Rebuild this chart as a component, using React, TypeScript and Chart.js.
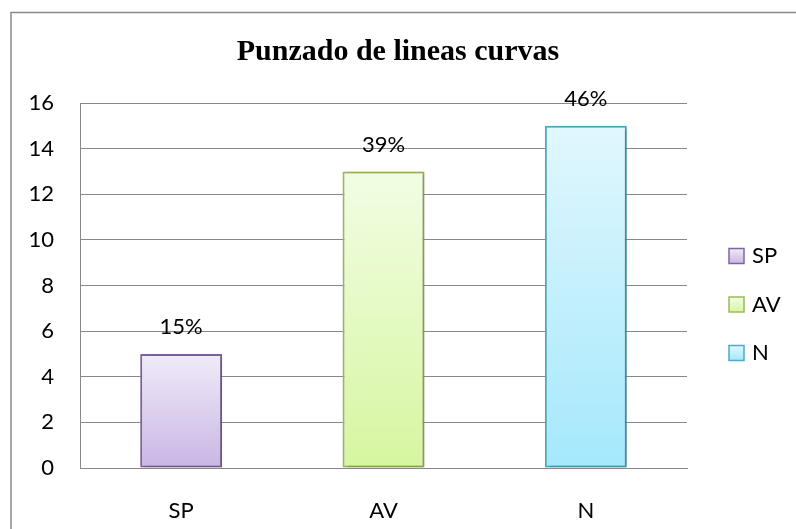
import React, { useEffect, useRef } from 'react';
import { Chart, registerables } from 'chart.js';

Chart.register(...registerables);

const titleText = 'Punzado de lineas curvas';
const categories = ['SP', 'AV', 'N'];
const values = [5, 13, 15];
const percentLabels = ['15%', '39%', '46%'];
const legendLabels = ['SP', 'AV', 'N'];
const yMin = 0;
const yMax = 16;
const yStep = 2;
const topColors = ['#f0ebf8', '#f2fde4', '#e1f7fd'];
const bottomColors = ['#c9b6e4', '#d6f6a0', '#a5e8fc'];
const borderColors = ['#8064a2', '#9bbb59', '#4bacc6'];

const tickFont = { family: 'Lato', size: 22 };

function makeGradient(c: CanvasRenderingContext2D, i: number, top: number, bottom: number) {
  const g = c.createLinearGradient(0, top, 0, bottom);
  g.addColorStop(0, topColors[i]);
  g.addColorStop(1, bottomColors[i]);
  return g;
}

export default function App() {
  const ref = useRef<HTMLCanvasElement>(null);

  useEffect(() => {
    const canvas = ref.current;
    if (!canvas) return;

    const plugin = {
      id: 'excelLook',
      beforeDatasetsDraw(chart: any) {
        const c = chart.ctx;
        c.save();
        c.shadowColor = 'rgba(0,0,0,0.25)';
        c.shadowBlur = 4;
        c.shadowOffsetX = 2;
        c.shadowOffsetY = 1;
      },
      afterDatasetsDraw(chart: any) {
        chart.ctx.restore();
      },
      afterDraw(chart: any) {
        const c = chart.ctx as CanvasRenderingContext2D;
        const area = chart.chartArea;
        c.save();
        // data labels
        const meta = chart.getDatasetMeta(0);
        c.font = '22px Lato';
        c.fillStyle = '#000';
        c.textAlign = 'center';
        c.textBaseline = 'middle';
        meta.data.forEach((bar: any, i: number) => {
          c.fillText(percentLabels[i], bar.x, bar.y - 27);
        });
        // legend
        const midY = (area.top + area.bottom) / 2 + 19;
        legendLabels.forEach((lab, i) => {
          const cy = midY + (i - 1) * 48.5;
          const bx = area.right + 42;
          c.fillStyle = makeGradient(c, i, cy - 7.5, cy + 7.5);
          c.fillRect(bx, cy - 7.5, 15, 15);
          c.lineWidth = 1.5;
          c.strokeStyle = borderColors[i];
          c.strokeRect(bx, cy - 7.5, 15, 15);
          c.fillStyle = '#000';
          c.textAlign = 'left';
          c.fillText(lab, bx + 23, cy);
        });
        // outer frame
        c.strokeStyle = '#8a8a8a';
        c.lineWidth = 1.5;
        c.beginPath();
        c.moveTo(11, chart.height);
        c.lineTo(11, 12.5);
        c.lineTo(chart.width, 12.5);
        c.stroke();
        c.restore();
      },
    };

    const chart = new Chart(canvas, {
      type: 'bar',
      data: {
        labels: categories,
        datasets: [
          {
            data: values,
            backgroundColor: (ctx: any) => {
              const i = ctx.dataIndex;
              if (i === undefined) return topColors[0];
              const ch = ctx.chart;
              if (!ch.chartArea || !ch.scales.y) return topColors[i];
              const ys = ch.scales.y;
              return makeGradient(ch.ctx, i, ys.getPixelForValue(values[i]), ys.getPixelForValue(0));
            },
            borderColor: borderColors,
            borderWidth: 2,
            borderSkipped: false,
            barPercentage: 0.405,
            categoryPercentage: 1,
          },
        ],
      },
      options: {
        responsive: false,
        animation: false,
        devicePixelRatio: 1,
        layout: { padding: 0 },
        plugins: {
          legend: { display: false },
          tooltip: { enabled: false },
          title: {
            display: true,
            text: titleText,
            color: '#000',
            font: { family: 'Liberation Serif', size: 30, weight: 'bold', lineHeight: 1.2 },
            padding: { top: 34, bottom: 33 },
          },
        },
        scales: {
          x: {
            grid: { display: false },
            border: { display: true, color: '#888', width: 1 },
            ticks: { font: tickFont, color: '#000', padding: 22 },
            afterFit: (s: any) => {
              s.height = 61;
            },
          },
          y: {
            min: yMin,
            max: yMax,
            ticks: { stepSize: yStep, font: tickFont, color: '#000', padding: 26 },
            grid: { color: '#888', drawTicks: false, lineWidth: 1 },
            border: { display: true, color: '#888', width: 1 },
            afterFit: (s: any) => {
              s.width = 80;
            },
          },
          yRight: {
            position: 'right',
            display: true,
            grid: { display: false },
            border: { display: false },
            ticks: { display: false },
            afterFit: (s: any) => {
              s.width = 109;
            },
          },
        },
      },
      plugins: [plugin],
    } as any);

    return () => chart.destroy();
  }, []);

  return (
    <div style={{ position: 'absolute', left: 0, top: 0, width: 796, height: 529, background: '#fff' }}>
      <canvas ref={ref} width={796} height={529} style={{ display: 'block', width: 796, height: 529 }} />
    </div>
  );
}
